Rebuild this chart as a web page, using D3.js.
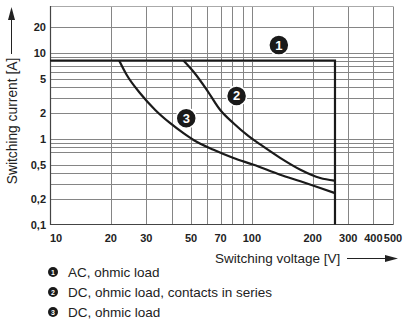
<!DOCTYPE html>
<html><head><meta charset="utf-8">
<script src="https://cdn.jsdelivr.net/npm/d3@7"></script>
<style>body{margin:0;background:#fff}svg{display:block}</style>
</head><body>
<script>
// Data
const curve1V = [10, 258, 258];
const curve1I = [8.2, 8.2, 0.1];
const curve2V = [45.8, 51.4, 59.9, 69.7, 81.1, 94.6, 110, 138, 174, 218, 256];
const curve2I = [8.2, 6.06, 3.71, 2.17, 1.52, 1.11, 0.86, 0.6, 0.436, 0.349, 0.325];
const curve3V = [22.0, 24.0, 27.95, 33.2, 39.4, 45.8, 51.4, 64.6, 81.1, 102, 138, 174, 218, 256];
const curve3I = [8.2, 5.55, 3.4, 2.17, 1.52, 1.165, 0.97, 0.745, 0.597, 0.498, 0.381, 0.319, 0.267, 0.234];
const xGrid = [20, 30, 40, 50, 60, 70, 80, 90, 100, 200, 300, 400, 500];
const yGrid = [0.2, 0.3, 0.4, 0.5, 0.7, 0.8, 0.9, 1, 2, 3, 4, 5, 6, 7, 8, 9, 10, 20];
const xTickVals = [10, 20, 30, 50, 70, 100, 200, 300, 400, 500];
const xTickLabels = ["10", "20", "30", "50", "70", "100", "200", "300", "400", "500"];
const yTickVals = [0.1, 0.2, 0.5, 1, 2, 5, 10, 20];
const yTickLabels = ["0,1", "0,2", "0,5", "1", "2", "5", "10", "20"];
const markerIds = ["1", "2", "3"];
const markerV = [136, 84, 47.3];
const markerI = [12.4, 3.16, 1.74];
const legendLabels = ["AC, ohmic load", "DC, ohmic load, contacts in series", "DC, ohmic load"];

const W = 408, H = 325;
const svg = d3.select("body").append("svg").attr("width", W).attr("height", H);
const x = d3.scaleLog().domain([10, 500]).range([50, 393]);
const y = d3.scaleLog().domain([0.1, 35]).range([224.5, 6.5]);
const font = "'Liberation Sans', Arial, Helvetica, sans-serif";
const gridCol = "#858585";

const g = svg.append("g");
// grid
g.selectAll(".vg").data(xGrid).join("line")
  .attr("x1", d => Math.round(x(d)) + 0.5).attr("x2", d => Math.round(x(d)) + 0.5)
  .attr("y1", y(35)).attr("y2", y(0.1)).attr("stroke", gridCol).attr("stroke-width", 1);
g.selectAll(".hg").data(yGrid).join("line")
  .attr("y1", d => Math.round(y(d)) + 0.5).attr("y2", d => Math.round(y(d)) + 0.5)
  .attr("x1", x(10)).attr("x2", x(500)).attr("stroke", gridCol).attr("stroke-width", 1);
// top border
g.append("line").attr("x1", x(10)).attr("x2", x(500)).attr("y1", 6.5).attr("y2", 6.5)
  .attr("stroke", "#aaa").attr("stroke-width", 1);
// axes
g.append("line").attr("x1", 50.5).attr("x2", 50.5).attr("y1", 6).attr("y2", 225)
  .attr("stroke", "#444").attr("stroke-width", 1.2);
g.append("line").attr("x1", 50).attr("x2", 393.5).attr("y1", 224.5).attr("y2", 224.5)
  .attr("stroke", "#444").attr("stroke-width", 1.2);

// curves
const line = d3.line().x(d => x(d[0])).y(d => y(d[1]));
const smooth = d3.line().x(d => x(d[0])).y(d => y(d[1])).curve(d3.curveMonotoneX);
const z = (a, b) => a.map((v, i) => [v, b[i]]);
g.append("path").attr("d", line(z(curve1V, curve1I))).attr("fill", "none")
  .attr("stroke", "#1a1a1a").attr("stroke-width", 2.2);
g.append("path").attr("d", smooth(z(curve2V, curve2I))).attr("fill", "none")
  .attr("stroke", "#1a1a1a").attr("stroke-width", 2.2);
g.append("path").attr("d", smooth(z(curve3V, curve3I))).attr("fill", "none")
  .attr("stroke", "#1a1a1a").attr("stroke-width", 2.2);

// markers
markerIds.forEach((id, i) => {
  const cx = x(markerV[i]), cy = y(markerI[i]);
  g.append("circle").attr("cx", cx).attr("cy", cy).attr("r", 10)
    .attr("fill", "#1a1a1a").attr("stroke", "#fff").attr("stroke-width", 1.5);
  g.append("text").attr("x", cx).attr("y", cy + 4.5).attr("text-anchor", "middle")
    .attr("fill", "#fff").attr("font-family", font).attr("font-weight", "bold")
    .attr("font-size", 13).text(id);
});

// tick labels
svg.selectAll(".xt").data(xTickVals).join("text")
  .attr("x", (d, i) => i === 0 ? x(d) + 6 : x(d)).attr("y", 242)
  .attr("text-anchor", "middle").attr("font-family", font).attr("font-weight", "bold")
  .attr("font-size", 11).attr("fill", "#222").text((d, i) => xTickLabels[i]);
svg.selectAll(".yt").data(yTickVals).join("text")
  .attr("x", 46).attr("y", d => y(d) + 4)
  .attr("text-anchor", "end").attr("font-family", font).attr("font-weight", "bold")
  .attr("font-size", 11).attr("fill", "#222").text((d, i) => yTickLabels[i]);

// x title + arrow
svg.append("text").attr("x", 215).attr("y", 263).attr("font-family", font)
  .attr("font-size", 13.5).attr("fill", "#222").text("Switching voltage [V]");
svg.append("line").attr("x1", 347).attr("x2", 388).attr("y1", 258.5).attr("y2", 258.5)
  .attr("stroke", "#222").attr("stroke-width", 1);
svg.append("path").attr("d", "M385,255 L398,258.5 L385,262 Z").attr("fill", "#222");

// y title + arrow
svg.append("text").attr("transform", "translate(16.5,121) rotate(-90)")
  .attr("text-anchor", "middle").attr("font-family", font)
  .attr("font-size", 13.8).attr("fill", "#222").text("Switching current [A]");
svg.append("line").attr("x1", 11.5).attr("x2", 11.5).attr("y1", 18).attr("y2", 54)
  .attr("stroke", "#222").attr("stroke-width", 1);
svg.append("path").attr("d", "M8,20 L11.5,7 L15,20 Z").attr("fill", "#222");

// legend
legendLabels.forEach((t, i) => {
  const cy = 272 + i * 20;
  svg.append("circle").attr("cx", 53).attr("cy", cy).attr("r", 5).attr("fill", "#1a1a1a");
  svg.append("text").attr("x", 53).attr("y", cy + 2.6).attr("text-anchor", "middle")
    .attr("fill", "#fff").attr("font-family", font).attr("font-weight", "bold")
    .attr("font-size", 7).text(markerIds[i]);
  svg.append("text").attr("x", 68).attr("y", cy + 5).attr("font-family", font)
    .attr("font-size", 13.5).attr("fill", "#222").text(t);
});
</script>
</body></html>
